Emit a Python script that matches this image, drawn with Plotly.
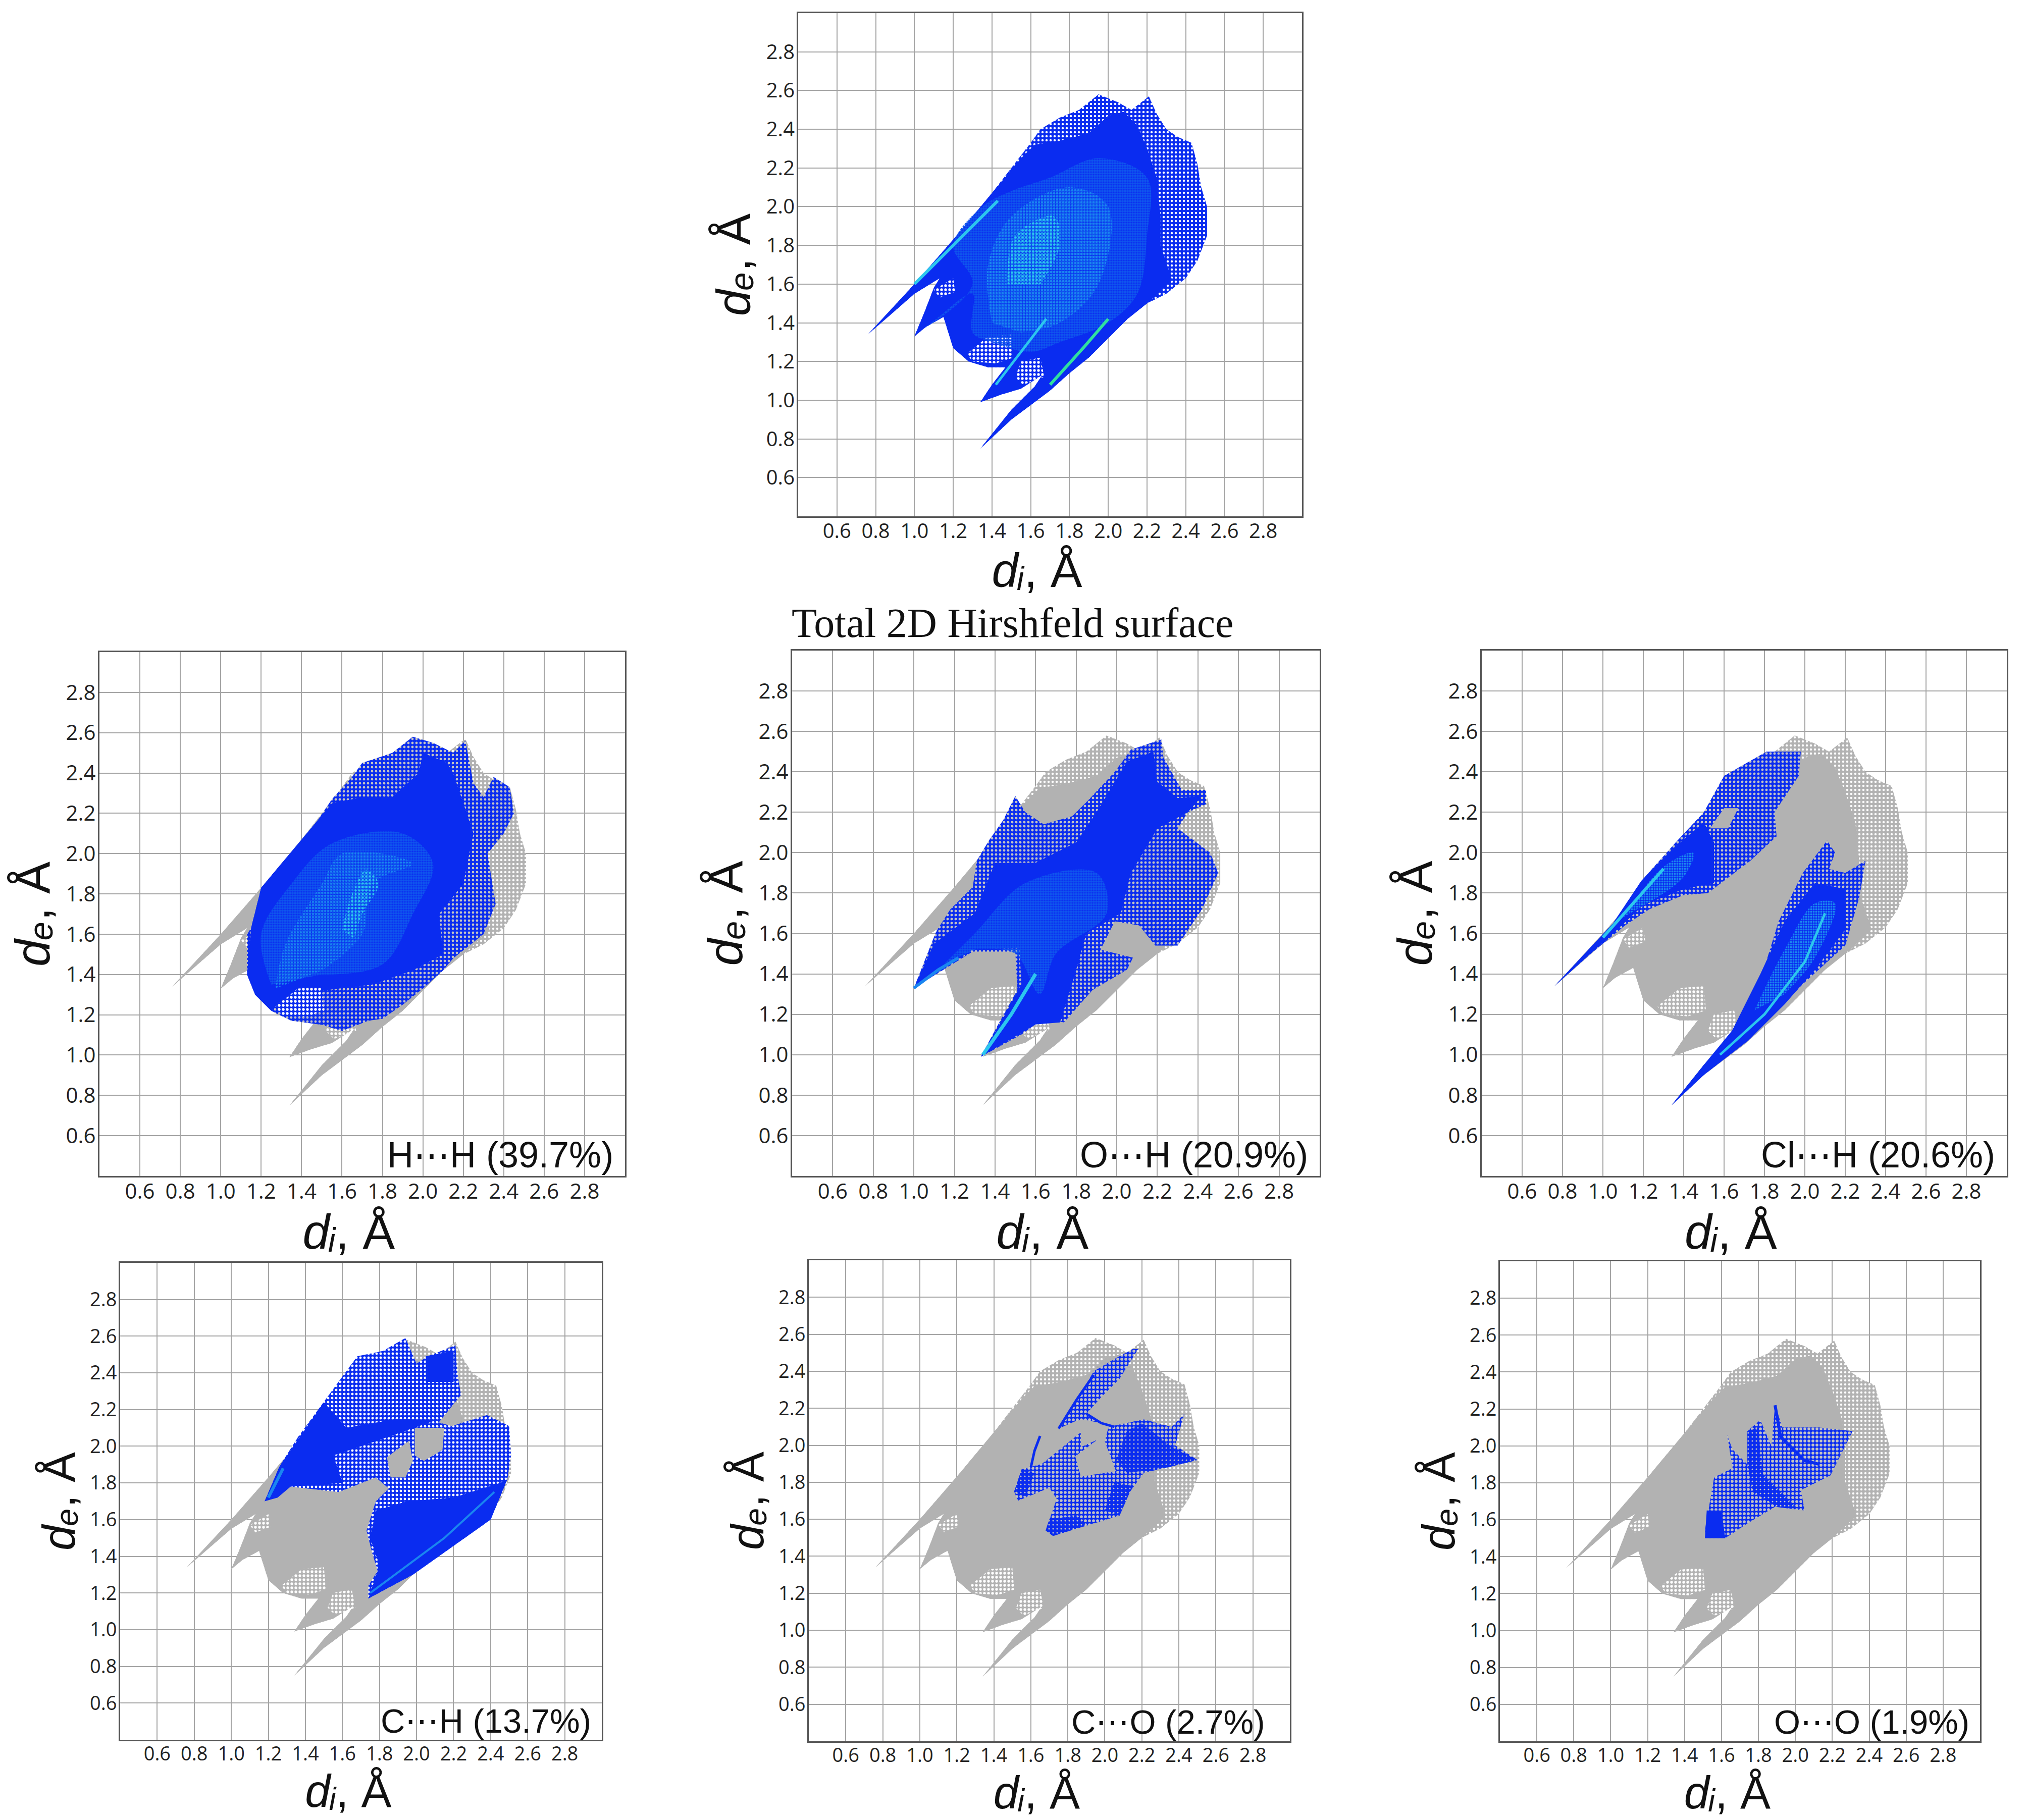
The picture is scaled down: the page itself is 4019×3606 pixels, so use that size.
import plotly.graph_objects as go

W, H = 4019, 3606

TICKS = [0.6, 0.8, 1.0, 1.2, 1.4, 1.6, 1.8, 2.0, 2.2, 2.4, 2.6, 2.8]
TICK_LABELS = ["0.6", "0.8", "1.0", "1.2", "1.4", "1.6", "1.8", "2.0", "2.2", "2.4", "2.6", "2.8"]
TITLE = "Total 2D Hirshfeld surface"

# whole fingerprint outline (di, de)
OUTLINE = [(0.76,1.34),(1.0,1.6),(1.2,1.83),(1.4,2.07),(1.5,2.2),(1.6,2.33),(1.65,2.4),(1.75,2.46),(1.85,2.5),(1.95,2.58),
           (2.05,2.54),(2.12,2.5),(2.21,2.57),(2.25,2.48),(2.3,2.4),(2.36,2.36),(2.43,2.33),(2.46,2.22),(2.48,2.1),(2.51,2.0),
           (2.51,1.85),(2.46,1.72),(2.4,1.63),(2.3,1.55),(2.2,1.5),(2.1,1.42),(2.0,1.32),(1.9,1.22),(1.8,1.14),(1.7,1.05),
           (1.5,0.9),(1.34,0.75),(1.5,0.95),(1.62,1.07),(1.66,1.13),(1.55,1.06),(1.45,1.03),(1.34,0.99),(1.4,1.08),(1.47,1.17),
           (1.38,1.17),(1.28,1.2),(1.2,1.27),(1.15,1.43),(1.06,1.38),(1.0,1.33),(1.05,1.45),(1.1,1.58),(1.13,1.63),(1.0,1.55)]
# solid interior of the outline
CORE = [(0.76,1.34),(1.0,1.6),(1.2,1.83),(1.4,2.07),(1.55,2.25),(1.62,2.32),(1.75,2.34),(1.9,2.38),(2.0,2.47),(2.08,2.49),
        (2.15,2.42),(2.2,2.3),(2.25,2.15),(2.27,1.95),(2.27,1.8),(2.33,1.62),(2.2,1.5),(2.1,1.42),(2.0,1.32),(1.9,1.22),
        (1.8,1.14),(1.7,1.05),(1.5,0.9),(1.34,0.75),(1.5,0.95),(1.62,1.07),(1.66,1.13),(1.55,1.06),(1.45,1.03),(1.34,0.99),
        (1.4,1.08),(1.47,1.17),(1.38,1.17),(1.28,1.2),(1.2,1.27),(1.15,1.43),(1.06,1.38),(1.0,1.33),(1.05,1.45),(1.1,1.58),
        (1.13,1.63),(1.0,1.55)]
GAP_A = [(1.27,1.24),(1.38,1.33),(1.5,1.34),(1.51,1.22),(1.42,1.19),(1.3,1.2)]
GAP_B = [(1.55,1.2),(1.65,1.22),(1.67,1.12),(1.56,1.08),(1.52,1.12)]
GAP_C = [(1.1,1.57),(1.2,1.63),(1.21,1.56),(1.13,1.53)]

# total panel shading
TOTAL_MID = [(1.05,1.37),(1.3,1.6),(1.2,1.8),(1.35,2.0),(1.5,2.08),(1.7,2.15),(1.95,2.25),(2.2,2.15),(2.2,1.85),(2.15,1.55),
             (2.0,1.4),(1.75,1.3),(1.6,1.25),(1.4,1.3),(1.3,1.35),(1.3,1.55),(1.15,1.45)]
TOTAL_LIGHT = [(1.4,1.4),(1.38,1.7),(1.5,1.95),(1.8,2.1),(2.0,2.0),(1.95,1.6),(1.75,1.4),(1.55,1.35)]
TOTAL_CYAN = [(1.48,1.6),(1.52,1.85),(1.72,1.95),(1.75,1.8),(1.65,1.6)]
TOTAL_STREAK_1 = [(1.0,1.6),(1.2,1.8),(1.43,2.03)]
TOTAL_STREAK_2 = [(1.42,1.08),(1.55,1.25),(1.68,1.42)]
TOTAL_GREEN = [(1.7,1.08),(1.88,1.28),(2.0,1.42)]

# H...H
HH_SPARSE = [(1.2,1.83),(1.15,1.63),(1.13,1.6),(1.13,1.4),(1.17,1.3),(1.25,1.22),(1.35,1.17),(1.5,1.15),(1.6,1.12),(1.73,1.17),
             (1.8,1.18),(1.9,1.25),(2.0,1.33),(2.1,1.42),(2.15,1.48),(2.3,1.6),(2.36,1.75),(2.32,2.0),(2.4,2.1),(2.45,2.2),
             (2.43,2.33),(2.35,2.38),(2.3,2.28),(2.25,2.35),(2.21,2.56),(2.15,2.5),(2.05,2.55),(1.95,2.58),(1.85,2.5),(1.7,2.45),
             (1.65,2.38),(1.55,2.27),(1.45,2.12),(1.3,1.95)]
HH_DENSE = [(1.2,1.83),(1.15,1.63),(1.13,1.4),(1.17,1.3),(1.25,1.22),(1.3,1.27),(1.5,1.32),(1.75,1.35),(1.95,1.42),(2.1,1.5),
            (2.08,1.7),(2.2,1.85),(2.25,2.1),(2.15,2.4),(2.12,2.45),(2.0,2.5),(1.98,2.4),(1.85,2.28),(1.7,2.28),(1.55,2.25),(1.4,2.07)]
HH_MID = [(1.25,1.35),(1.2,1.6),(1.35,1.85),(1.55,2.05),(1.9,2.1),(2.05,1.95),(1.95,1.7),(1.8,1.45),(1.5,1.4)]
HH_LIGHT = [(1.27,1.33),(1.32,1.55),(1.5,1.85),(1.6,2.0),(1.95,1.95),(1.75,1.85),(1.7,1.6),(1.5,1.42)]
HH_CYAN = [(1.6,1.62),(1.65,1.8),(1.72,1.92),(1.78,1.85),(1.7,1.7),(1.66,1.58)]

# O...H
OH_SPARSE = [(1.0,1.33),(1.11,1.61),(1.18,1.72),(1.29,1.83),(1.31,1.96),(1.37,2.06),(1.44,2.16),(1.5,2.28),(1.55,2.2),(1.64,2.14),
             (1.78,2.18),(1.86,2.26),(1.99,2.4),(2.07,2.51),(2.19,2.55),(2.22,2.56),(2.23,2.47),(2.32,2.31),(2.44,2.31),(2.44,2.24),
             (2.35,2.2),(2.3,2.12),(2.46,2.0),(2.5,1.9),(2.42,1.72),(2.3,1.54),(2.19,1.54),(2.11,1.64),(1.99,1.66),(1.92,1.52),
             (2.08,1.48),(2.05,1.42),(1.88,1.32),(1.74,1.16),(1.64,1.18),(1.53,1.1),(1.33,0.99),(1.41,1.14),(1.51,1.32),(1.5,1.51),(1.29,1.51)]
OH_DENSE = [(1.0,1.33),(1.1,1.55),(1.3,1.7),(1.4,1.95),(1.6,1.95),(1.8,2.05),(1.9,2.2),(2.05,2.45),(2.18,2.5),(2.2,2.35),(2.3,2.27),
            (2.42,2.28),(2.35,2.2),(2.2,2.12),(2.07,1.9),(2.02,1.7),(1.85,1.6),(1.78,1.35),(1.72,1.16),(1.6,1.15),(1.33,0.99),(1.45,1.2),
            (1.53,1.35),(1.52,1.53),(1.29,1.52)]
OH_MID = [(1.15,1.45),(1.3,1.6),(1.55,1.85),(1.9,1.9),(1.95,1.7),(1.7,1.5),(1.62,1.3),(1.5,1.5),(1.3,1.52)]
OH_STREAK_1 = [(1.0,1.33),(1.12,1.42),(1.22,1.48)]
OH_STREAK_2 = [(1.34,1.0),(1.48,1.2),(1.6,1.4)]

# Cl...H
CLH_UP_SPARSE = [(0.76,1.34),(1.05,1.65),(1.19,1.86),(1.36,2.05),(1.5,2.2),(1.6,2.38),(1.81,2.5),(1.98,2.5),(1.97,2.38),(1.85,2.2),
                 (1.86,2.08),(1.73,1.96),(1.52,1.8),(1.4,1.79),(1.23,1.72),(1.11,1.64),(0.94,1.5)]
CLH_UP_DENSE = [(0.76,1.34),(1.05,1.65),(1.19,1.86),(1.36,2.03),(1.5,2.15),(1.55,2.05),(1.55,1.85),(1.4,1.82),(1.2,1.74),(1.05,1.6)]
CLH_UP_HOLE = [(1.53,2.12),(1.6,2.22),(1.67,2.22),(1.62,2.12)]
CLH_LOW_SPARSE = [(1.34,0.75),(1.5,0.95),(1.64,1.1),(1.79,1.4),(1.87,1.66),(1.99,1.9),(2.11,2.06),(2.15,2.0),(2.12,1.92),(2.2,1.9),(2.3,1.96),
                  (2.27,1.78),(2.2,1.54),(1.99,1.35),(1.73,1.08),(1.5,0.9)]
CLH_LOW_DENSE = [(1.34,0.75),(1.5,0.95),(1.64,1.12),(1.78,1.4),(1.9,1.66),(2.05,1.85),(2.2,1.82),(2.2,1.62),(2.05,1.42),(1.9,1.25),(1.72,1.07),(1.5,0.9)]
CLH_MID_UP = [(1.1,1.68),(1.3,1.93),(1.45,2.0),(1.4,1.88),(1.22,1.75)]
CLH_MID_LOW = [(1.75,1.22),(1.9,1.52),(2.05,1.75),(2.15,1.75),(2.05,1.48),(1.9,1.3)]
CLH_STREAK_1 = [(1.0,1.58),(1.15,1.75),(1.3,1.92)]
CLH_STREAK_2 = [(1.58,1.0),(1.8,1.2),(2.0,1.46),(2.1,1.7)]

# C...H
CH_SPARSE = [(1.18,1.7),(1.26,1.89),(1.36,2.05),(1.52,2.27),(1.68,2.49),(1.82,2.52),(1.94,2.59),(2.0,2.45),(2.06,2.49),(2.21,2.55),
             (2.22,2.4),(2.24,2.28),(2.12,2.13),(2.19,2.11),(2.38,2.17),(2.5,2.11),(2.51,1.95),(2.49,1.82),(2.4,1.6),(2.26,1.5),
             (2.12,1.4),(1.98,1.3),(1.74,1.17),(1.74,1.24),(1.79,1.32),(1.76,1.42),(1.73,1.54),(1.78,1.7),(1.85,1.77),(1.78,1.83),
             (1.58,1.75),(1.32,1.78),(1.3,1.8),(1.22,1.72)]
CH_DENSE_LOW = [(1.78,1.65),(1.95,1.7),(2.2,1.72),(2.45,1.8),(2.49,1.82),(2.4,1.6),(2.26,1.5),(1.98,1.3),(1.74,1.17),(1.8,1.35),(1.75,1.5)]
CH_DENSE_UP = [(1.18,1.7),(1.26,1.89),(1.5,2.24),(1.62,2.1),(1.9,2.15),(2.1,2.14),(1.7,2.0),(1.55,1.95),(1.6,1.8),(1.32,1.78),(1.25,1.72)]
CH_DENSE_TOP = [(2.05,2.49),(2.2,2.52),(2.2,2.35),(2.05,2.35)]
CH_HOLE_1 = [(1.84,1.94),(1.96,2.03),(1.98,1.92),(1.94,1.83),(1.86,1.83)]
CH_HOLE_2 = [(1.99,2.1),(2.15,2.1),(2.14,1.98),(2.04,1.92),(1.99,1.95)]
CH_STREAK_1 = [(1.75,1.2),(1.95,1.35),(2.15,1.5),(2.42,1.75)]
CH_STREAK_2 = [(1.2,1.72),(1.28,1.88)]

# C...O
CO_MAIN = [(1.68,1.54),(1.72,1.51),(2.08,1.62),(2.1,1.7),(2.21,1.85),(2.5,1.92),(2.38,2.0),(2.43,2.17),(2.36,2.1),(2.21,2.14),
           (2.02,2.1),(2.0,2.02),(2.06,1.86),(1.87,1.83),(1.84,1.94),(1.96,2.03),(1.87,1.99),(1.87,2.07),(1.66,1.9),(1.55,1.87),
           (1.51,1.75),(1.53,1.7),(1.7,1.77),(1.74,1.71)]
CO_ARM = [(1.75,2.09),(1.84,2.23),(1.94,2.4),(2.04,2.46),(2.15,2.52),(2.18,2.52),(2.08,2.36),(1.98,2.26),(1.9,2.17),(1.98,2.12),(1.88,2.14),(1.84,2.13)]
CO_DENSE_1 = [(2.12,1.85),(2.34,1.88),(2.5,1.92),(2.35,2.0),(2.2,2.12),(2.12,2.08),(2.06,1.92)]
CO_DENSE_2 = [(1.68,1.54),(1.72,1.51),(1.9,1.57),(1.85,1.62),(1.7,1.6)]
CO_DENSE_3 = [(2.0,1.65),(2.08,1.62),(2.15,1.78),(2.05,1.8)]
CO_DENSE_4 = [(1.51,1.75),(1.55,1.87),(1.62,1.85),(1.57,1.72)]
CO_LINE_1 = [(1.6,1.88),(1.62,1.97),(1.65,2.05)]
CO_LINE_2 = [(1.9,2.17),(1.98,2.12),(2.05,2.1)]
CO_LINE_3 = [(1.75,2.09),(1.85,2.25),(1.94,2.38)]

# O...O
OO_MAIN = [(1.51,1.54),(1.52,1.5),(1.62,1.5),(1.74,1.58),(1.89,1.67),(2.05,1.65),(2.03,1.76),(2.19,1.84),(2.31,2.08),(2.13,2.1),
           (1.93,2.1),(1.89,2.22),(1.87,2.0),(1.81,2.14),(1.74,2.08),(1.74,1.9),(1.66,1.98),(1.63,2.06),(1.66,1.88),(1.56,1.83)]
OO_DENSE_1 = [(1.51,1.5),(1.62,1.5),(1.6,1.65),(1.52,1.65)]
OO_DENSE_2 = [(1.74,1.9),(1.74,2.08),(1.8,2.1),(1.82,1.85),(2.0,1.67),(1.9,1.67),(1.77,1.75)]
OO_CURVE = [(1.89,2.22),(1.92,2.05),(2.05,1.92),(2.13,1.9)]

LABELS = ["", "H⋯H (39.7%)", "O⋯H (20.9%)", "Cl⋯H (20.6%)", "C⋯H (13.7%)", "C⋯O (2.7%)", "O⋯O (1.9%)"]

# panel rectangles in px: left, top, right, bottom
PANELS = [(1581,26,2579,1023),(197,1292,1238,2330),(1569,1289,2614,2330),(2935,1289,3975,2330),
          (238,2502,1192,3447),(1602,2497,2555,3450),(2971,2499,3922,3450)]
TICK_SIZE = [40, 42, 42, 42, 38, 38, 38]
TITLE_SIZE = [94, 96, 96, 96, 90, 90, 90]
LABEL_X = [0, 0.98, 0.98, 0.98, 0.98, 0.95, 0.98]

GRAY, BLUE, MID, LIGHT, CYAN, GREEN = "#b2b2b2", "#0a2cf0", "#0f55ee", "#1a86f0", "#2cc6ee", "#30e0a0"

fig = go.Figure()


def axn(i, kind):
    return kind if i == 0 else f"{kind}{i + 1}"


def xy(i, pts):
    return dict(x=[p[0] for p in pts], y=[p[1] for p in pts], xaxis=axn(i, "x"), yaxis=axn(i, "y"),
                hoverinfo="skip", showlegend=False)


def solid(i, pts, color):
    fig.add_trace(go.Scatter(**xy(i, pts), mode="lines", fill="toself", fillcolor=color, line=dict(width=0, color=color)))


def speck(i, pts, color, spot, size=8, sol=0.22):
    """area of colour with small spots of another colour showing through"""
    fig.add_trace(go.Scatter(**xy(i, pts), mode="lines", fill="toself", line=dict(width=0, color=color),
                             fillpattern=dict(shape=".", size=size, solidity=sol, fgcolor=spot, bgcolor=color, fgopacity=1)))


def grain(i, pts, color, size=6, sol=0.5, smooth=True):
    """spots of a colour only, the layer underneath stays visible"""
    fig.add_trace(go.Scatter(**xy(i, pts), mode="lines", fill="toself",
                             line=dict(width=0, color=color, shape="spline" if smooth else "linear"),
                             fillpattern=dict(shape=".", size=size, solidity=sol, fgcolor=color, bgcolor="rgba(0,0,0,0)", fgopacity=1)))


def stroke(i, pts, color, width):
    fig.add_trace(go.Scatter(**xy(i, pts), mode="lines", line=dict(width=width, color=color)))


def base(i, color):
    speck(i, OUTLINE, color, "#ffffff", 8, 0.25)
    solid(i, CORE, color)
    for g in (GAP_A, GAP_B, GAP_C):
        grain(i, g, "#ffffff", 8, 0.35, False)


SPOT = "#c4c4c4"

# total
base(0, BLUE)
grain(0, TOTAL_MID, MID, 5, 0.7)
grain(0, TOTAL_LIGHT, LIGHT, 6, 0.45)
grain(0, TOTAL_CYAN, CYAN, 7, 0.35)
stroke(0, TOTAL_STREAK_1, CYAN, 6)
stroke(0, TOTAL_STREAK_2, CYAN, 5)
stroke(0, TOTAL_GREEN, GREEN, 6)

# H...H
base(1, GRAY)
speck(1, HH_SPARSE, BLUE, SPOT, 8, 0.28)
solid(1, HH_DENSE, BLUE)
grain(1, HH_MID, MID, 5, 0.7)
grain(1, HH_LIGHT, LIGHT, 6, 0.35)
grain(1, HH_CYAN, CYAN, 7, 0.3)
grain(1, GAP_A, "#ffffff", 8, 0.35, False)

# O...H
base(2, GRAY)
speck(2, OH_SPARSE, BLUE, SPOT, 8, 0.3)
solid(2, OH_DENSE, BLUE)
grain(2, OH_MID, MID, 5, 0.7)
stroke(2, OH_STREAK_1, LIGHT, 6)
stroke(2, OH_STREAK_2, CYAN, 7)

# Cl...H
base(3, GRAY)
speck(3, CLH_UP_SPARSE, BLUE, SPOT, 8, 0.3)
speck(3, CLH_LOW_SPARSE, BLUE, SPOT, 8, 0.3)
solid(3, CLH_UP_DENSE, BLUE)
solid(3, CLH_LOW_DENSE, BLUE)
solid(3, CLH_UP_HOLE, GRAY)
grain(3, CLH_MID_UP, LIGHT, 5, 0.5)
grain(3, CLH_MID_LOW, LIGHT, 5, 0.5)
stroke(3, CLH_STREAK_1, CYAN, 6)
stroke(3, CLH_STREAK_2, CYAN, 5)

# C...H
base(4, GRAY)
speck(4, CH_SPARSE, BLUE, "#ffffff", 8, 0.3)
solid(4, CH_DENSE_LOW, BLUE)
solid(4, CH_DENSE_UP, BLUE)
solid(4, CH_DENSE_TOP, BLUE)
solid(4, CH_HOLE_1, GRAY)
solid(4, CH_HOLE_2, GRAY)
stroke(4, CH_STREAK_1, LIGHT, 4)
stroke(4, CH_STREAK_2, LIGHT, 6)

# C...O
base(5, GRAY)
speck(5, CO_MAIN, BLUE, SPOT, 8, 0.4)
speck(5, CO_ARM, BLUE, SPOT, 8, 0.4)
for d in (CO_DENSE_1, CO_DENSE_2, CO_DENSE_3, CO_DENSE_4):
    speck(5, d, BLUE, SPOT, 8, 0.12)
for l in (CO_LINE_1, CO_LINE_2, CO_LINE_3):
    stroke(5, l, BLUE, 5)

# O...O
base(6, GRAY)
speck(6, OO_MAIN, BLUE, SPOT, 8, 0.4)
solid(6, OO_DENSE_1, BLUE)
speck(6, OO_DENSE_2, BLUE, SPOT, 8, 0.12)
stroke(6, OO_CURVE, BLUE, 6)

layout = dict(width=W, height=H, margin=dict(l=0, r=0, t=0, b=0), paper_bgcolor="white", plot_bgcolor="white", showlegend=False)
annotations = [dict(text=TITLE, xref="paper", yref="paper", x=2005 / W, y=1 - 1235 / H, showarrow=False,
                    font=dict(family="Liberation Serif", size=82, color="#111"))]
for i, (l, t, r, b) in enumerate(PANELS):
    sfx = "" if i == 0 else str(i + 1)
    common = dict(range=[0.4, 3.0], tickvals=TICKS, ticktext=TICK_LABELS, showgrid=True, gridcolor="#a4a4a4", gridwidth=2,
                  showline=True, linecolor="#555555", linewidth=3, mirror=True, zeroline=False, ticks="",
                  layer="below traces", tickfont=dict(family="Open Sans", size=TICK_SIZE[i], color="#222"))
    tfont = dict(family="Liberation Sans, DejaVu Sans", size=TITLE_SIZE[i], color="#111")
    layout[f"xaxis{sfx}"] = dict(common, domain=[l / W, r / W], anchor=f"y{sfx}", automargin=False, ticklabelstandoff=-8,
                                 title=dict(text="<i>dᵢ</i>, Å&nbsp;&nbsp;", standoff=0, font=tfont))
    layout[f"yaxis{sfx}"] = dict(common, domain=[1 - b / H, 1 - t / H], anchor=f"x{sfx}", automargin=False, ticklabelstandoff=-4,
                                 title=dict(text="<i>dₑ</i>, Å", standoff=0, font=tfont))
    if LABELS[i]:
        annotations.append(dict(text=LABELS[i], xref=f"x{sfx} domain", yref=f"y{sfx} domain", x=LABEL_X[i], y=0.04,
                                xanchor="right", yanchor="middle", showarrow=False,
                                font=dict(family="Liberation Sans", size=72 if i < 4 else 67, color="#111")))
layout["annotations"] = annotations
fig.update_layout(**layout)

fig.write_html("out.html", config=dict(displayModeBar=False), post_script="document.body.style.margin='0';")
